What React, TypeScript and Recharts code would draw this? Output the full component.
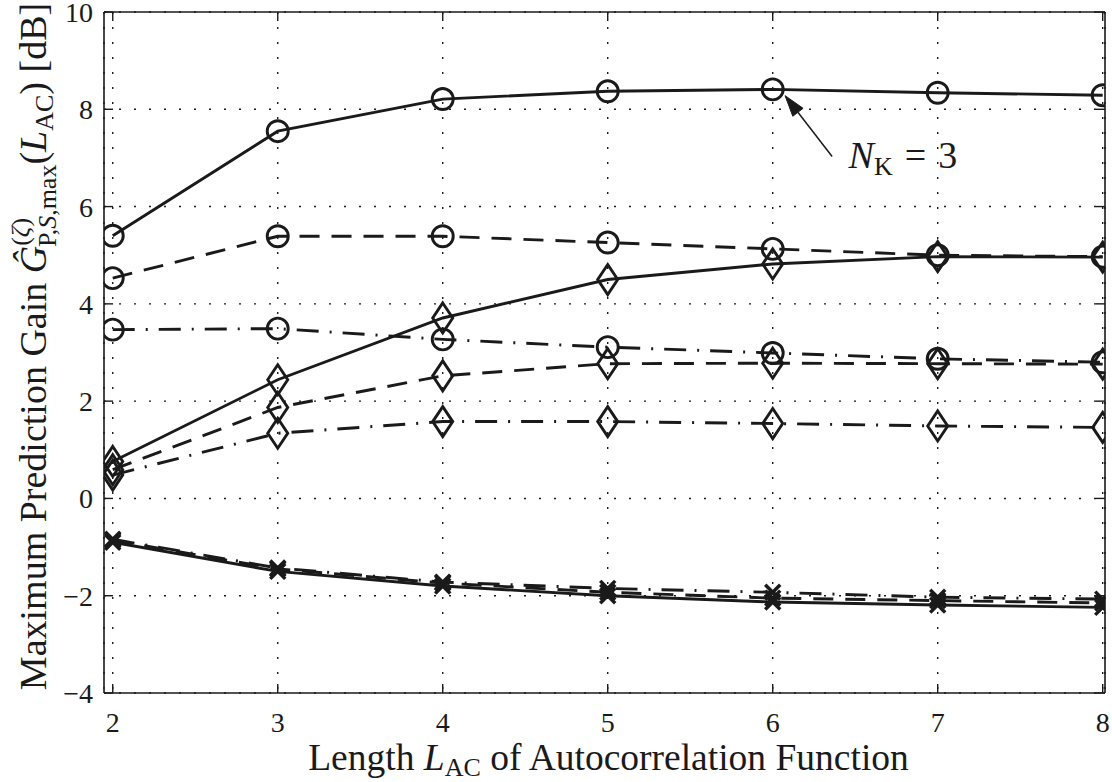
import React from 'react';
import { LineChart, Line, XAxis, YAxis, CartesianGrid, ReferenceLine, ReferenceDot } from 'recharts';

const lengthsAC = [2, 3, 4, 5, 6, 7, 8];
const xTicks = [2, 3, 4, 5, 6, 7, 8];
const yTicks = [-4, -2, 0, 2, 4, 6, 8, 10];

const circleSolid = [5.40, 7.55, 8.21, 8.37, 8.41, 8.34, 8.29];
const circleDashed = [4.53, 5.39, 5.39, 5.26, 5.13, 5.00, 4.97];
const circleDashDot = [3.47, 3.49, 3.27, 3.11, 2.99, 2.87, 2.80];
const diamondSolid = [0.76, 2.44, 3.71, 4.50, 4.82, 4.97, 4.96];
const diamondDashed = [0.59, 1.87, 2.52, 2.77, 2.78, 2.77, 2.76];
const diamondDashDot = [0.48, 1.34, 1.58, 1.58, 1.54, 1.49, 1.46];
const crossSolid = [-0.90, -1.50, -1.80, -2.00, -2.13, -2.19, -2.24];
const crossDashed = [-0.86, -1.45, -1.74, -1.93, -2.05, -2.10, -2.15];
const crossDashDot = [-0.84, -1.43, -1.72, -1.85, -1.93, -2.03, -2.07];

const xDomain: [number, number] = [1.947, 8.014];
const yDomain: [number, number] = [-4, 10];

const annotTip = { x: 6.075, y: 8.28 };
const annotTail = { x: 6.36, y: 7.03 };
const annotText = { x: 6.46, y: 6.8 };

const INK = '#1a1a1a';
const FONT = '"Liberation Serif", "Times New Roman", serif';

const data = lengthsAC.map((x, i) => ({
  x,
  cS: circleSolid[i],
  cD: circleDashed[i],
  cDD: circleDashDot[i],
  dS: diamondSolid[i],
  dD: diamondDashed[i],
  dDD: diamondDashDot[i],
  xS: crossSolid[i],
  xD: crossDashed[i],
  xDD: crossDashDot[i],
}));

const LW = 2.9;

const CircleDot = (props: any) => {
  const { cx, cy, index, dataKey } = props;
  if (cx == null || cy == null) return <g key={`${dataKey}-${index}`} />;
  return <circle key={`${dataKey}-${index}`} cx={cx} cy={cy} r={10.5} fill="none" stroke={INK} strokeWidth={LW} />;
};

const DiamondDot = (props: any) => {
  const { cx, cy, index, dataKey } = props;
  if (cx == null || cy == null) return <g key={`${dataKey}-${index}`} />;
  const w = 10, h = 15;
  return (
    <polygon
      key={`${dataKey}-${index}`}
      points={`${cx},${cy - h} ${cx + w},${cy} ${cx},${cy + h} ${cx - w},${cy}`}
      fill="none"
      stroke={INK}
      strokeWidth={LW}
    />
  );
};

const CrossDot = (props: any) => {
  const { cx, cy, index, dataKey } = props;
  if (cx == null || cy == null) return <g key={`${dataKey}-${index}`} />;
  const s = 7.5;
  return (
    <g key={`${dataKey}-${index}`}>
      <line x1={cx - s} y1={cy - s} x2={cx + s} y2={cy + s} stroke={INK} strokeWidth={3.4} />
      <line x1={cx - s} y1={cy + s} x2={cx + s} y2={cy - s} stroke={INK} strokeWidth={3.4} />
    </g>
  );
};

const DASH = '20 12';
const DASHDOT = '22 11 2 11';

const Arrow = (p: any) => {
  const { x1, y1, x2, y2 } = p;
  if ([x1, y1, x2, y2].some((v) => v == null || isNaN(v))) return <g />;
  const dx = x2 - x1, dy = y2 - y1;
  const len = Math.hypot(dx, dy) || 1;
  const ux = dx / len, uy = dy / len;
  const hl = 21, hw = 6.5;
  const bx = x2 - ux * hl, by = y2 - uy * hl;
  return (
    <g>
      <line x1={x1} y1={y1} x2={bx} y2={by} stroke={INK} strokeWidth={1.5} />
      <polygon
        points={`${x2},${y2} ${bx - uy * hw},${by + ux * hw} ${bx + uy * hw},${by - ux * hw}`}
        fill={INK}
        stroke={INK}
        strokeWidth={1}
      />
    </g>
  );
};

const AnnotLabel = (p: any) => {
  const { cx, cy } = p;
  if (cx == null || cy == null) return <g />;
  return (
    <text x={cx} y={cy} fontFamily={FONT} fontSize={38} fill={INK}>
      <tspan fontStyle="italic">N</tspan>
      <tspan fontSize={26} dy={7}>K</tspan>
      <tspan dy={-7} dx={12}>=</tspan>
      <tspan dx={12}>3</tspan>
    </text>
  );
};

const YTitle = (props: any) => {
  const vb = props.viewBox || {};
  const cy = (vb.y ?? 12) + (vb.height ?? 681) / 2 - 6;
  const x = 46;
  return (
    <text
      transform={`rotate(-90, ${x}, ${cy})`}
      x={x}
      y={cy}
      textAnchor="middle"
      fontFamily={FONT}
      fontSize={38}
      fill={INK}
    >
      <tspan>Maximum Prediction Gain </tspan>
      <tspan fontStyle="italic">Ĝ</tspan>
      <tspan fontSize={26} dy={-17}>(</tspan>
      <tspan fontSize={26} fontStyle="italic">ζ</tspan>
      <tspan fontSize={26}>)</tspan>
      <tspan fontSize={26} dx={-29} dy={27}>P,</tspan>
      <tspan fontSize={26} fontStyle="italic">S</tspan>
      <tspan fontSize={26}>,max</tspan>
      <tspan dy={-10}>(</tspan>
      <tspan fontStyle="italic">L</tspan>
      <tspan fontSize={26} dy={7}>AC</tspan>
      <tspan dy={-7}>) [dB]</tspan>
    </text>
  );
};

const XTitle = (props: any) => {
  const vb = props.viewBox || {};
  const cx = (vb.x ?? 104) + (vb.width ?? 1001) / 2 + 4;
  return (
    <text x={cx} y={770} textAnchor="middle" fontFamily={FONT} fontSize={37.5} fill={INK}>
      <tspan>Length </tspan>
      <tspan fontStyle="italic">L</tspan>
      <tspan fontSize={26} dy={6}>AC</tspan>
      <tspan dy={-6}> of Autocorrelation Function</tspan>
    </text>
  );
};

const fmtTick = (v: number) => String(v).replace('-', '\u2212');

const XTick = (p: any) => {
  const { x, y, payload } = p;
  return (
    <text x={x} y={y} dy="0.71em" textAnchor="middle" fontFamily={FONT} fontSize={28} fill={INK}>
      {fmtTick(payload.value)}
    </text>
  );
};

const YTick = (p: any) => {
  const { x, y, payload } = p;
  return (
    <text x={x} y={y} dy="0.355em" textAnchor="end" fontFamily={FONT} fontSize={28} fill={INK}>
      {fmtTick(payload.value)}
    </text>
  );
};

const xTickLen = 0.055;
const yTickLen = 0.185;

export default function App() {
  return (
    <div style={{ position: 'absolute', left: 0, top: 0, width: 1112, height: 782, background: '#fff', fontFamily: FONT }}>
      <LineChart
        width={1112}
        height={782}
        data={data}
        margin={{ top: 12, right: 7, bottom: 29, left: 44 }}
      >
        <CartesianGrid stroke={INK} strokeWidth={1.4} strokeDasharray="2 13" vertical horizontal />
        <XAxis
          dataKey="x"
          type="number"
          domain={xDomain}
          ticks={xTicks}
          allowDataOverflow
          height={60}
          tickLine={false}
          tickSize={0}
          tickMargin={19}
          axisLine={{ stroke: INK, strokeWidth: 1.6 }}
          tick={XTick}
          label={(p: any) => <XTitle {...p} />}
        />
        <YAxis
          type="number"
          domain={yDomain}
          ticks={yTicks}
          allowDataOverflow
          width={60}
          tickLine={false}
          tickSize={0}
          tickMargin={11}
          axisLine={{ stroke: INK, strokeWidth: 1.6 }}
          tick={YTick}
          label={(p: any) => <YTitle {...p} />}
        />
        <ReferenceLine y={yDomain[1]} stroke={INK} strokeWidth={1.6} />
        <ReferenceLine x={xDomain[1]} stroke={INK} strokeWidth={1.6} />
        {xTicks.map((t) => (
          <ReferenceLine
            key={`xb-${t}`}
            segment={[{ x: t, y: yDomain[0] }, { x: t, y: yDomain[0] + yTickLen }]}
            stroke={INK}
            strokeWidth={1.4}
          />
        ))}
        {xTicks.map((t) => (
          <ReferenceLine
            key={`xt-${t}`}
            segment={[{ x: t, y: yDomain[1] }, { x: t, y: yDomain[1] - yTickLen }]}
            stroke={INK}
            strokeWidth={1.4}
          />
        ))}
        {yTicks.map((t) => (
          <ReferenceLine
            key={`yl-${t}`}
            segment={[{ x: xDomain[0], y: t }, { x: xDomain[0] + xTickLen, y: t }]}
            stroke={INK}
            strokeWidth={1.4}
          />
        ))}
        {yTicks.map((t) => (
          <ReferenceLine
            key={`yr-${t}`}
            segment={[{ x: xDomain[1], y: t }, { x: xDomain[1] - xTickLen, y: t }]}
            stroke={INK}
            strokeWidth={1.4}
          />
        ))}

        <Line dataKey="cS" stroke={INK} strokeWidth={LW} dot={CircleDot} isAnimationActive={false} />
        <Line dataKey="cD" stroke={INK} strokeWidth={LW} strokeDasharray={DASH} dot={CircleDot} isAnimationActive={false} />
        <Line dataKey="cDD" stroke={INK} strokeWidth={LW} strokeDasharray={DASHDOT} dot={CircleDot} isAnimationActive={false} />
        <Line dataKey="dS" stroke={INK} strokeWidth={LW} dot={DiamondDot} isAnimationActive={false} />
        <Line dataKey="dD" stroke={INK} strokeWidth={LW} strokeDasharray={DASH} dot={DiamondDot} isAnimationActive={false} />
        <Line dataKey="dDD" stroke={INK} strokeWidth={LW} strokeDasharray={DASHDOT} dot={DiamondDot} isAnimationActive={false} />
        <Line dataKey="xS" stroke={INK} strokeWidth={LW} dot={CrossDot} isAnimationActive={false} />
        <Line dataKey="xD" stroke={INK} strokeWidth={LW} strokeDasharray={DASH} dot={CrossDot} isAnimationActive={false} />
        <Line dataKey="xDD" stroke={INK} strokeWidth={LW} strokeDasharray={DASHDOT} dot={CrossDot} isAnimationActive={false} />

        <ReferenceLine
          segment={[annotTail, annotTip]}
          ifOverflow="visible"
          stroke={INK}
          shape={(p: any) => <Arrow {...p} />}
        />
        <ReferenceDot
          x={annotText.x}
          y={annotText.y}
          r={0}
          ifOverflow="visible"
          shape={(p: any) => <AnnotLabel {...p} />}
        />
      </LineChart>
    </div>
  );
}
